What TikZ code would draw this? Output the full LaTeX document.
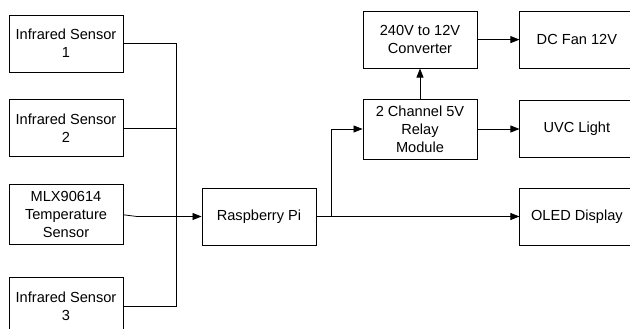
\documentclass[tikz,border=0pt]{standalone}
\usepackage{fontspec}
\setmainfont{Liberation Sans}
\usetikzlibrary{arrows.meta,positioning}

\begin{document}
\begin{tikzpicture}[
  x=1pt, y=1pt,
  box/.style={rectangle, draw, line width=0.9pt, align=center,
              minimum width=114pt, minimum height=57pt, inner sep=2pt,
              font=\fontsize{14.6}{18}\selectfont},
  tall/.style={minimum height=60pt},
  arr/.style={draw, -{Triangle[length=9pt,width=7pt]}, line width=0.8pt},
  wire/.style={draw, line width=0.8pt}
]
\useasboundingbox (0,0) rectangle (630,-329);
% sensors
\node[box] (ir1) at (66,-43.5) {Infrared Sensor\\1};
\node[box, below=27pt of ir1]       (ir2) {Infrared Sensor\\2};
\node[box, tall, below=27pt of ir2] (mlx) {MLX90614\\Temperature\\Sensor};
\node[box, below=32pt of mlx]       (ir3) {Infrared Sensor\\3};
% controller and outputs
\node[box] (rpi) at (259,-216.5) {Raspberry Pi};
\node[box, tall] (relay) at (420,-129) {2 Channel 5V\\Relay\\Module};
\node[box, above=30pt of relay] (conv) {240V to 12V\\Converter};
\node[box, right=42pt of conv]  (fan)  {DC Fan 12V};
\node[box, right=42pt of relay] (uvc)  {UVC Light};
\node[box] (oled) at (fan |- rpi) {OLED Display};
\coordinate (bus)   at (176,-216.5);
\coordinate (kink)  at (137,-216.5);
\coordinate (split) at (331,-216.5);
\draw[wire] (ir1.east) -| (bus);
\draw[wire] (ir2.east) -| (bus);
\draw[wire] (ir3.east) -| (bus);
\draw[arr] (mlx.east) -- (kink) -- (rpi.west);
\draw[arr] (rpi.east) -- (oled.west);
\draw[arr] (split) |- (relay.west);
\draw[arr] (relay) -- (conv);
\draw[arr] (conv) -- (fan);
\draw[arr] (relay) -- (uvc);
\end{tikzpicture}
\end{document}
